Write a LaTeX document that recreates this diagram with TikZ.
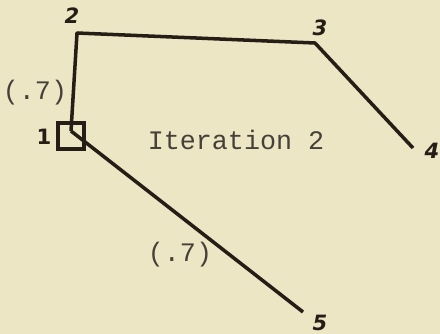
\documentclass[tikz,border=0pt]{standalone}
\usepackage{fontspec}
\setmonofont{Liberation Mono}
\newfontfamily\manuscrit{DejaVu Sans}
\definecolor{papier}{RGB}{237,230,196}
\definecolor{encre}{RGB}{38,30,22}

\begin{document}
\begin{tikzpicture}[x=0.025cm, y=-0.025cm]
\tikzset{trait/.style={draw=encre, line width=2.5pt, line join=round},
  chiffre/.style={text=encre, font=\fontsize{15}{15}\manuscrit\bfseries\itshape, inner sep=0pt},
  poids/.style={text=encre!85, font=\fontsize{19}{20}\selectfont\ttfamily, inner sep=0pt},
  boite/.style={draw=encre, line width=2.8pt, minimum size=19pt, inner sep=0pt}}
\fill[papier] (0,0) rectangle (440,334);
\useasboundingbox (0,0) rectangle (440,334);
\node[boite] (B1) at (71,136) {};
\coordinate (V1) at (71,131);
\coordinate (V2) at (77,33);
\coordinate (V3) at (315,43);
\coordinate (V4) at (413,148);
\coordinate (V5) at (303,312);
\node[chiffre] (L1) at (44,137) {\upshape 1};
\node[chiffre] (L2) at (72,16) {2};
\node[chiffre] (L3) at (320,28) {3};
\node[chiffre] (L4) at (432,151) {4};
\node[chiffre] (L5) at (320,323) {5};
\node[poids] (P1) at (35,93) {(.7)};
\node[poids] (P2) at (180,255) {(.7)};
\node[poids] (T) at (236,140) {Iteration 2};
\draw[trait] (V1) -- (V2) -- (V3) -- (V4);
\draw[trait] (V1) -- (V5);
\end{tikzpicture}
\end{document}
